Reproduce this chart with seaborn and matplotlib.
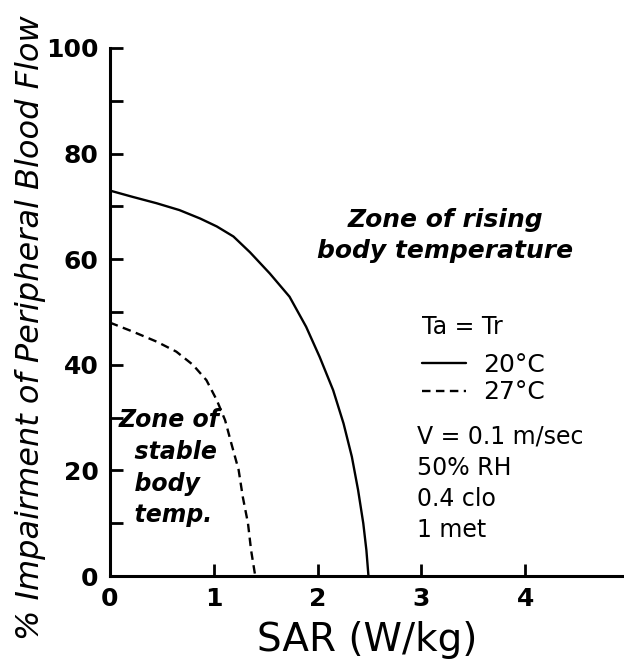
import matplotlib
matplotlib.use("Agg")
import matplotlib.pyplot as plt
import seaborn as sns
import pandas as pd

# curve: Ta = Tr = 20 C (solid)
sar_20 = [0.0, 0.22, 0.45, 0.67, 0.87, 1.03, 1.19, 1.35, 1.54, 1.73, 1.89,
          2.02, 2.15, 2.25, 2.33, 2.39, 2.44, 2.47, 2.49]
imp_20 = [73.0, 71.8, 70.6, 69.3, 67.7, 66.2, 64.3, 61.3, 57.3, 52.9, 47.2,
          41.5, 35.2, 28.9, 22.6, 16.3, 10.0, 4.9, 0.0]
# Ta = Tr = 27 C (dashed)
sar_27 = [0.0, 0.22, 0.45, 0.64, 0.80, 0.93, 1.03, 1.11, 1.17, 1.24, 1.28,
          1.33, 1.36, 1.40]
imp_27 = [48.0, 46.3, 44.4, 42.5, 40.0, 37.1, 33.3, 29.5, 25.1, 20.1, 15.0,
          10.0, 4.9, 0.0]
series = ["20°C", "27°C"]
x_ticks = [0, 1, 2, 3, 4]
y_ticks = [0, 20, 40, 60, 80, 100]
conditions = ["V = 0.1 m/sec", "50% RH", "0.4 clo", "1 met"]

df = pd.concat([
    pd.DataFrame({"SAR": sar_20, "imp": imp_20, "T": series[0]}),
    pd.DataFrame({"SAR": sar_27, "imp": imp_27, "T": series[1]}),
])

sns.set_style("ticks")
plt.rcParams["font.family"] = ["DejaVu Sans"]
for k in ["text.color", "axes.labelcolor", "xtick.color", "ytick.color", "axes.edgecolor"]:
    plt.rcParams[k] = "black"

fig = plt.figure(figsize=(6.24, 6.66), dpi=100)
ax = fig.add_axes([0.176, 0.135, 0.824, 0.793])

sns.lineplot(data=df, x="SAR", y="imp", style="T", color="black",
             dashes={series[0]: "", series[1]: (3.6, 2.3)},
             estimator=None, sort=False, linewidth=1.7, ax=ax)

ax.set_xlim(0, 4.95)
ax.set_ylim(0, 100)
sns.despine(ax=ax)
for s in ["left", "bottom"]:
    ax.spines[s].set_linewidth(2.2)

ax.set_xticks(x_ticks)
ax.set_yticks(y_ticks)
ax.set_yticks(range(0, 101, 10), minor=True)
ax.tick_params(axis="both", which="major", direction="in", length=9, width=2,
               labelsize=18, pad=8)
ax.tick_params(axis="y", which="minor", direction="in", length=9, width=2)
for lab in ax.get_xticklabels() + ax.get_yticklabels():
    lab.set_fontweight("bold")

ax.set_xlabel("SAR (W/kg)", fontsize=28)
ax.xaxis.set_label_coords(0.5, -0.085)
ax.set_ylabel("% Impairment of Peripheral Blood Flow", fontsize=23, style="italic")
ax.yaxis.set_label_coords(-0.125, 0.47)

ax.text(3.23, 64.5, "Zone of rising\nbody temperature", ha="center", va="center",
        fontsize=18, style="italic", fontweight="bold", linespacing=1.35)
ax.text(0.08, 20.5, "Zone of\n  stable\n  body\n  temp.", ha="left", va="center",
        fontsize=17, style="italic", fontweight="bold", linespacing=1.4)
ax.text(0.597, 0.176, "\n".join(conditions), transform=ax.transAxes, ha="left",
        va="center", fontsize=17, linespacing=1.38)

ax.text(0.607, 0.472, "Ta = Tr", transform=ax.transAxes, ha="left", va="center",
        fontsize=17)
leg = ax.legend(loc="upper left", bbox_to_anchor=(0.607, 0.423),
                frameon=False, fontsize=18, handlelength=1.75,
                handletextpad=0.7, labelspacing=0.15, borderpad=0, borderaxespad=0)
for h in leg.get_lines():
    h.set_color("black")
    h.set_linewidth(1.7)

fig.savefig("out.png", dpi=100)
